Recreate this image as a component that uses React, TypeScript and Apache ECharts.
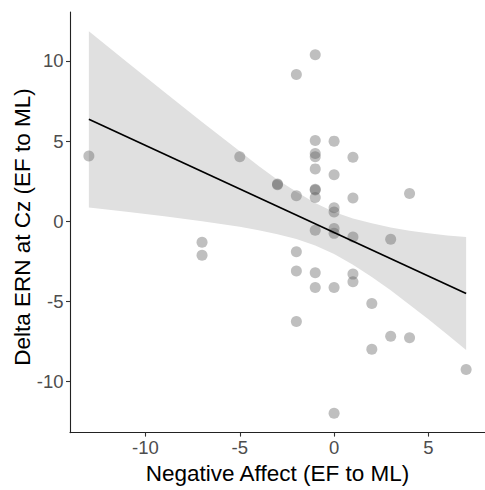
import React, { useEffect, useRef } from "react";
import * as echarts from "echarts";

// Scatter data: Negative Affect (EF to ML) vs Delta ERN at Cz (EF to ML)
const negAffect = [
  -13, -5, -7, -7, -3, -3, -2, -2, -2, -2, -2,
  -1, -1, -1, -1, -1, -1, -1, -1, -1, -1, -1,
  0, 0, 0, 0, 0, 0, 0, 0,
  1, 1, 1, 1, 1, 2, 2, 3, 3, 4, 4, 7,
];
const deltaERN = [
  4.07, 4.02, -1.3, -2.12, 2.32, 2.28, 9.15, 1.59, -1.89, -3.09, -6.24,
  10.38, 5.04, 4.23, 4.02, 3.27, 2.0, 1.95, 1.48, -0.55, -3.2, -4.13,
  5.0, 2.9, 0.85, 0.58, -0.45, -0.75, -4.13, -11.97,
  4.0, 1.45, -0.98, -3.29, -3.76, -5.12, -7.97, -1.12, -7.17, 1.73, -7.26, -9.23,
];

// Fitted regression line (end points)
const fitX = [-13, 7];
const fitY = [6.36, -4.5];

// Confidence ribbon
const ribbonX = [-13, -11, -9, -7, -5, -4, -3, -2, -1, 0, 1, 2, 3, 4, 5, 6, 7];
const ribbonLow = [0.87, 0.6, 0.32, 0.01, -0.34, -0.55, -0.8, -1.1, -1.5, -2.04, -2.7, -3.47, -4.3, -5.2, -6.1, -7.05, -8.02];
const ribbonHigh = [11.85, 9.95, 8.06, 6.19, 4.37, 3.45, 2.6, 1.85, 1.15, 0.58, 0.18, -0.12, -0.38, -0.58, -0.75, -0.88, -0.98];

const xTicks = [-10, -5, 0, 5];
const yTicks = [-10, -5, 0, 5, 10];

const xTitle = "Negative Affect (EF to ML)";
const yTitle = "Delta ERN at Cz (EF to ML)";

const FONT = "Liberation Sans, Arial, Helvetica, sans-serif";

export default function App() {
  const ref = useRef<HTMLDivElement>(null);

  useEffect(() => {
    if (!ref.current) return;
    const chart = echarts.init(ref.current, null, { renderer: "svg" });

    const ribbonData = ribbonX.map((x, i) => [x, ribbonLow[i], ribbonHigh[i]]);

    chart.setOption({
      animation: false,
      backgroundColor: "#ffffff",
      grid: { left: 70, top: 12, width: 420, height: 430, containLabel: false },
      graphic: [
        {
          type: "text",
          x: 22,
          y: 227,
          rotation: Math.PI / 2,
          style: {
            text: yTitle,
            fill: "#000",
            font: `22.5px ${FONT}`,
            align: "center",
            verticalAlign: "middle",
          },
        },
      ],
      xAxis: {
        type: "value",
        min: -14,
        max: 8,
        name: xTitle,
        nameLocation: "middle",
        nameGap: 26,
        nameTextStyle: { color: "#000", fontSize: 22.5, fontFamily: FONT, verticalAlign: "top" },
        axisLine: { show: true, onZero: false, lineStyle: { color: "#222", width: 1.1 } },
        axisTick: { show: true, length: 4, customValues: xTicks, lineStyle: { color: "#333", width: 1.1 } },
        axisLabel: { customValues: xTicks, color: "#4d4d4d", fontSize: 18.5, fontFamily: FONT, margin: 5.5 },
        splitLine: { show: false },
      },
      yAxis: {
        type: "value",
        min: -13.17,
        max: 13.05,
        axisLine: { show: true, onZero: false, lineStyle: { color: "#222", width: 1.1 } },
        axisTick: { show: true, length: 4, customValues: yTicks, lineStyle: { color: "#333", width: 1.1 } },
        axisLabel: { customValues: yTicks, color: "#4d4d4d", fontSize: 18.5, fontFamily: FONT, margin: 6.5 },
        splitLine: { show: false },
      },
      series: [
        {
          type: "custom",
          data: ribbonData,
          silent: true,
          z: 1,
          renderItem: (params: any, api: any) => {
            if (params.dataIndex !== 0) return null;
            const top = ribbonData.map((d) => api.coord([d[0], d[2]]));
            const bottom = ribbonData.map((d) => api.coord([d[0], d[1]])).reverse();
            return {
              type: "polygon",
              shape: { points: top.concat(bottom) },
              style: { fill: "#e0e0e0", stroke: "none" },
            };
          },
        },
        {
          type: "scatter",
          data: negAffect.map((x, i) => [x, deltaERN[i]]),
          symbol: "circle",
          symbolSize: 11,
          itemStyle: { color: "rgba(95,95,95,0.5)" },
          z: 2,
        },
        {
          type: "line",
          data: fitX.map((x, i) => [x, fitY[i]]),
          symbol: "none",
          lineStyle: { color: "#000", width: 1.7 },
          z: 3,
        },
      ],
    });

    return () => chart.dispose();
  }, []);

  return (
    <div
      ref={ref}
      style={{ position: "fixed", left: 0, top: 0, width: 485, height: 490 }}
    />
  );
}
